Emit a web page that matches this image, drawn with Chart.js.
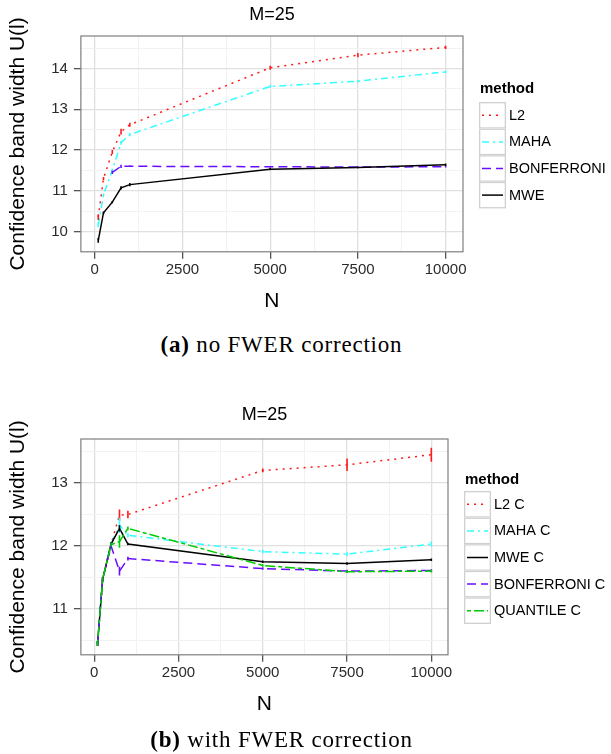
<!DOCTYPE html>
<html><head><meta charset="utf-8">
<script src="https://cdn.jsdelivr.net/npm/chart.js@4.4.0/dist/chart.umd.min.js"></script>
<style>
html,body{margin:0;padding:0;background:#fff}
body{width:611px;height:754px;position:relative;overflow:hidden}
.cv{position:absolute;left:0}
.cap{position:absolute;left:0;width:563px;text-align:center;font-family:"Liberation Serif","Times New Roman",serif;font-size:23px;letter-spacing:0.8px;color:#000;line-height:26px}
.cap b{font-weight:bold}
</style>
</head><body>
<canvas id="ca" class="cv" width="611" height="325" style="top:0px"></canvas>
<canvas id="cb" class="cv" width="611" height="325" style="top:403px"></canvas>
<div class="cap" style="top:332px"><b>(a)</b> no FWER correction</div>
<div class="cap" style="top:727px"><b>(b)</b> with FWER correction</div>
<script>
// ---------- data ----------
const N = [100, 250, 500, 750, 1000, 5000, 7500, 10000];

// (a) no FWER correction
const l2A    = [10.35, 11.30, 11.95, 12.45, 12.62, 14.02, 14.33, 14.52];
const mahaA  = [10.16, 10.90, 11.50, 12.18, 12.38, 13.56, 13.69, 13.92];
const bonfA  = [null, null, 11.45, 11.60, 11.60, 11.59, 11.58, 11.59];
const mweA   = [9.78, 10.46, 10.72, 11.07, 11.15, 11.53, 11.57, 11.64];
const l2AErr   = [0.07, 0.04, 0.05, 0.07, 0.05, 0.05, 0.05, 0.04];
const mahaAErr = [0.06, 0.03, 0.04, 0.05, 0.04, 0.04, 0.03, 0.03];
const bonfAErr = [0, 0, 0.04, 0.04, 0.02, 0.02, 0.02, 0.02];
const mweAErr  = [0.06, 0.03, 0.03, 0.04, 0.04, 0.03, 0.02, 0.03];

// (b) with FWER correction
const l2C    = [10.45, 11.47, 12.03, 12.49, 12.50, 13.20, 13.29, 13.45];
const mahaC  = [10.45, 11.47, 12.03, 12.33, 12.17, 11.91, 11.87, 12.03];
const mweC   = [10.45, 11.47, 12.03, 12.28, 12.03, 11.75, 11.72, 11.78];
const bonfC  = [10.45, 11.47, 12.00, 11.60, 11.80, 11.64, 11.60, 11.61];
const quantC = [10.45, 11.47, 12.02, 12.07, 12.28, 11.69, 11.59, 11.60];
const l2CErr    = [0.04, 0.03, 0.03, 0.09, 0.06, 0.03, 0.10, 0.11];
const mahaCErr  = [0.04, 0.03, 0.03, 0.12, 0.03, 0.03, 0.03, 0.04];
const mweCErr   = [0.04, 0.03, 0.03, 0.05, 0.02, 0.02, 0.02, 0.02];
const bonfCErr  = [0.04, 0.03, 0.03, 0.07, 0.03, 0.02, 0.02, 0.02];
const quantCErr = [0.04, 0.03, 0.03, 0.10, 0.03, 0.02, 0.02, 0.02];

// ticks
const xMajor = [0, 2500, 5000, 7500, 10000];
const xMinor = [1250, 3750, 6250, 8750];
const yMajorA = [10, 11, 12, 13, 14];
const yMinorA = [10.5, 11.5, 12.5, 13.5, 14.5];
const yMajorB = [11, 12, 13];
const yMinorB = [10.5, 11.5, 12.5, 13.5];

// ---------- helpers ----------
const FONT = '"Liberation Sans", Arial, Helvetica, sans-serif';
const COL = {red:'#ff1a1a', cyan:'#33ffff', purple:'#6a0dff', black:'#000000', green:'#00cc00'};
const DASH = {dotted:[2,5], dotdash:[7,4,2,4], dashed:[9,5], solid:[], twodash:[4,3,10,3]};

function pts(ys){ return N.map((x,i)=>({x:x, y:ys[i]})); }
function ds(label, ys, err, color, dash, order){
  return {label, data: pts(ys), err, borderColor: color, backgroundColor: color,
    borderWidth: 1.5, borderDash: dash, pointRadius: 0, fill: false, tension: 0,
    spanGaps: false, order};
}

const panelBorder = {
  id:'panelBorder',
  afterDraw(chart, args, o){
    const a = chart.chartArea, ctx = chart.ctx;
    ctx.save(); ctx.strokeStyle = '#7f7f7f'; ctx.lineWidth = 1.2; ctx.setLineDash([]);
    ctx.strokeRect(a.left, a.top, a.right - a.left, a.bottom - a.top);
    ctx.fillStyle = '#000'; ctx.font = '18px ' + FONT;
    ctx.textAlign = 'center'; ctx.textBaseline = 'middle';
    ctx.fillText(o.text, (a.left + a.right) / 2, o.y);
    ctx.restore();
  }
};
const errBars = {
  id:'errBars',
  afterDatasetsDraw(chart){
    const ctx = chart.ctx, xs = chart.scales.x, ys = chart.scales.y, a = chart.chartArea;
    ctx.save();
    ctx.beginPath(); ctx.rect(a.left, a.top, a.right - a.left, a.bottom - a.top); ctx.clip();
    chart.data.datasets.forEach(d => {
      if (!d.err) return;
      ctx.strokeStyle = d.borderColor; ctx.lineWidth = 1.6; ctx.setLineDash([]);
      d.data.forEach((p, i) => {
        if (p.y == null || !d.err[i]) return;
        const x = xs.getPixelForValue(p.x);
        const y1 = ys.getPixelForValue(p.y - d.err[i]);
        const y2 = ys.getPixelForValue(p.y + d.err[i]);
        ctx.beginPath();
        ctx.moveTo(x, y1); ctx.lineTo(x, y2);
        ctx.stroke();
      });
    });
    ctx.restore();
  }
};
const ggLegend = {
  id:'ggLegend',
  afterDraw(chart, args, o){
    const ctx = chart.ctx;
    ctx.save();
    ctx.textBaseline = 'middle'; ctx.textAlign = 'left';
    ctx.fillStyle = '#000';
    ctx.font = 'bold 15px ' + FONT;
    ctx.fillText(o.title, o.titleX, o.titleY);
    chart.data.datasets.forEach((d, i) => {
      const top = o.keyTop + i * o.keySize;
      ctx.setLineDash([]);
      ctx.fillStyle = '#fff';
      ctx.fillRect(o.keyX, top, o.keyW, o.keySize);
      ctx.strokeStyle = '#d0d0d0'; ctx.lineWidth = 1.3;
      ctx.strokeRect(o.keyX + 0.65, top + 0.65, o.keyW - 1.3, o.keySize - 1.3);
      ctx.strokeStyle = d.borderColor; ctx.lineWidth = d.borderWidth;
      ctx.setLineDash(d.borderDash || []);
      ctx.beginPath();
      ctx.moveTo(o.keyX + 3, top + o.keySize / 2);
      ctx.lineTo(o.keyX + o.keyW - 3, top + o.keySize / 2);
      ctx.stroke();
      ctx.setLineDash([]);
      ctx.fillStyle = '#000';
      ctx.font = '14.5px ' + FONT;
      ctx.fillText(d.label, o.keyX + o.keyW + 3, top + o.keySize / 2 + 0.5);
    });
    ctx.restore();
  }
};

function makeX(){
  const all = xMajor.concat(xMinor).sort((a,b)=>a-b);
  return {
    type:'linear', min:-395, max:10495,
    afterBuildTicks: s => { s.ticks = all.map(v => ({value:v})); },
    ticks:{ callback: v => xMajor.includes(v) ? String(v) : '', font:{size:15, family:FONT},
            color:'#2a2a2a', padding:2, maxRotation:0, autoSkip:false },
    grid:{ color: c => (c.tick && xMajor.includes(c.tick.value)) ? '#e0e0e0' : '#f2f2f2',
           lineWidth: c => (c.tick && xMajor.includes(c.tick.value)) ? 1.3 : 1,
           tickColor: c => (c.tick && xMajor.includes(c.tick.value)) ? '#555' : 'rgba(0,0,0,0)',
           tickLength:7, drawTicks:true },
    border:{display:false},
    title:{display:true, text:'N', font:{size:21, family:FONT}, color:'#000', padding:{top:8, bottom:2}}
  };
}
function makeY(min, max, major, minor){
  const all = major.concat(minor).filter(v => v >= min && v <= max).sort((a,b)=>a-b);
  return {
    type:'linear', min, max,
    afterBuildTicks: s => { s.ticks = all.map(v => ({value:v})); },
    ticks:{ callback: v => major.includes(v) ? String(v) : '', font:{size:15, family:FONT},
            color:'#2a2a2a', padding:6, autoSkip:false },
    grid:{ color: c => (c.tick && major.includes(c.tick.value)) ? '#e0e0e0' : '#f2f2f2',
           lineWidth: c => (c.tick && major.includes(c.tick.value)) ? 1.3 : 1,
           tickColor: c => (c.tick && major.includes(c.tick.value)) ? '#555' : 'rgba(0,0,0,0)',
           tickLength:7, drawTicks:true },
    border:{display:false},
    title:{display:true, text:'Confidence band width U(l)', font:{size:21, family:FONT}, color:'#000',
           padding:{top:6, bottom:14}}
  };
}
function makeChart(id, datasets, yMin, yMax, yMaj, yMin2, rightPad, legendOpts, titleY){
  return new Chart(document.getElementById(id), {
    type:'line',
    data:{ datasets },
    options:{
      responsive:false, animation:false, devicePixelRatio:1, events:[],
      layout:{ padding:{ left:0, right:rightPad, top:36, bottom:9 } },
      scales:{ x: makeX(), y: makeY(yMin, yMax, yMaj, yMin2) },
      plugins:{
        legend:{display:false}, tooltip:{enabled:false}, title:{display:false},
        panelBorder:{text:'M=25', y:titleY},
        ggLegend: legendOpts
      }
    },
    plugins:[errBars, panelBorder, ggLegend]
  });
}

makeChart('ca', [
  ds('L2', l2A, l2AErr, COL.red, DASH.dotted, 4),
  ds('MAHA', mahaA, mahaAErr, COL.cyan, DASH.dotdash, 3),
  ds('BONFERRONI', bonfA, bonfAErr, COL.purple, DASH.dashed, 2),
  ds('MWE', mweA, mweAErr, COL.black, DASH.solid, 1)
], 9.5, 14.8, yMajorA, yMinorA, 148,
  {title:'method', titleX:480, titleY:89, keyX:479, keyTop:102, keyW:27, keySize:26.6}, 15);

makeChart('cb', [
  ds('L2 C', l2C, l2CErr, COL.red, DASH.dotted, 5),
  ds('MAHA C', mahaC, mahaCErr, COL.cyan, DASH.dotdash, 4),
  ds('MWE C', mweC, mweCErr, COL.black, DASH.solid, 3),
  ds('BONFERRONI C', bonfC, bonfCErr, COL.purple, DASH.dashed, 2),
  ds('QUANTILE C', quantC, quantCErr, COL.green, DASH.twodash, 1)
], 10.27, 13.70, yMajorB, yMinorB, 163,
  {title:'method', titleX:465, titleY:77, keyX:464, keyTop:88, keyW:27, keySize:26.6}, 12.5);
</script>
</body></html>
